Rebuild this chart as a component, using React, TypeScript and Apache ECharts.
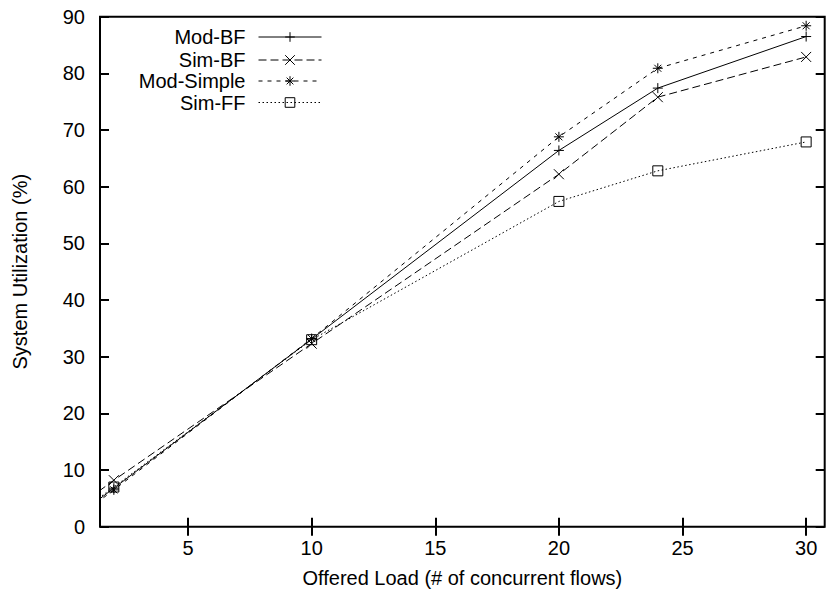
import React, { useEffect, useRef } from "react";
import * as echarts from "echarts";

const xVals = [1, 2, 10, 20, 24, 30];
const modBF = [3.5, 6.8, 33.1, 66.4, 77.4, 86.5];
const simBF = [5.0, 8.2, 32.3, 62.2, 75.8, 82.9];
const modSimple = [3.2, 6.5, 33.2, 68.8, 80.9, 88.4];
const simFF = [3.8, 7.0, 33.0, 57.4, 62.8, 67.9];
const seriesNames = ["Mod-BF", "Sim-BF", "Mod-Simple", "Sim-FF"];
const xTicks = [5, 10, 15, 20, 25, 30];

const FONT = "'Liberation Sans', Arial, Helvetica, sans-serif";

const SYM_PLUS = "path://M5,0L5,10M0,5L10,5";
const SYM_CROSS = "path://M0,0L10,10M10,0L0,10";
const SYM_STAR = "path://M5,0L5,10M0,5L10,5M1.5,1.5L8.5,8.5M8.5,1.5L1.5,8.5";
const SYM_BOX = "path://M0,0L10,0L10,10L0,10Z";

export default function App() {
  const ref = useRef<HTMLDivElement>(null);
  useEffect(() => {
    if (!ref.current) return;
    const chart = echarts.init(ref.current, null, { renderer: "svg" });
    const pair = (ys: number[]) => xVals.map((x, i) => [x, ys[i]]);
    const styles = [
      { data: modBF, symbol: SYM_PLUS, dash: "solid" as any },
      { data: simBF, symbol: SYM_CROSS, dash: [8, 4] },
      { data: modSimple, symbol: SYM_STAR, dash: [4, 5] },
      { data: simFF, symbol: SYM_BOX, dash: [1.5, 2.5] },
    ];
    const legendCenters = [37, 60, 81, 102.5];
    const tickStyle = { show: true, inside: true, length: 9, lineStyle: { color: "#000", width: 2 } };
    const xMin = 1.44;
    const xMax = 30.75;
    chart.setOption({
      animation: false,
      backgroundColor: "#fff",
      textStyle: { fontFamily: FONT, color: "#000" },
      grid: {
        left: 100,
        top: 16.7,
        right: 1.3,
        bottom: 72.3,
        show: true,
        borderColor: "#000",
        borderWidth: 2,
        backgroundColor: "transparent",
      },
      legend: seriesNames.map((n, i) => ({
        data: [n],
        orient: "horizontal",
        align: "right",
        right: 504,
        top: legendCenters[i] - 10,
        padding: 0,
        itemWidth: 63,
        itemHeight: 12,
        selectedMode: false,
        lineStyle: { width: 1, color: "#000", type: styles[i].dash },
        itemStyle: { borderWidth: 1, borderColor: "#000", color: i === 3 ? "rgba(0,0,0,0)" : "#000" },
        textStyle: { fontFamily: FONT, fontSize: 20, color: "#000", padding: [0, 8, 0, 0] },
      })),
      xAxis: [
        {
          type: "value",
          min: xMin,
          max: xMax,
          position: "bottom",
          name: "Offered Load (# of concurrent flows)",
          nameLocation: "middle",
          nameGap: 41,
          nameTextStyle: { fontFamily: FONT, fontSize: 20, color: "#000" },
          axisLine: { show: false },
          axisTick: { ...tickStyle, customValues: xTicks },
          axisLabel: { customValues: xTicks, fontFamily: FONT, fontSize: 20, color: "#000", margin: 11 },
          splitLine: { show: false },
        },
        {
          type: "value",
          min: xMin,
          max: xMax,
          position: "top",
          axisLine: { show: false },
          axisTick: { ...tickStyle, customValues: xTicks },
          axisLabel: { show: false, customValues: xTicks },
          splitLine: { show: false },
        },
      ],
      yAxis: [
        {
          type: "value",
          min: 0,
          max: 90,
          interval: 10,
          position: "left",
          name: "System Utilization (%)",
          nameLocation: "middle",
          nameGap: 70,
          nameTextStyle: { fontFamily: FONT, fontSize: 20, color: "#000" },
          axisLine: { show: false },
          axisTick: tickStyle,
          axisLabel: { fontFamily: FONT, fontSize: 20, color: "#000", margin: 15 },
          splitLine: { show: false },
        },
        {
          type: "value",
          min: 0,
          max: 90,
          interval: 10,
          position: "right",
          axisLine: { show: false },
          axisTick: tickStyle,
          axisLabel: { show: false },
          splitLine: { show: false },
        },
      ],
      series: styles.map((s, i) => ({
        name: seriesNames[i],
        type: "line",
        data: pair(s.data),
        clip: true,
        symbol: s.symbol,
        symbolSize: 10,
        showAllSymbol: true,
        lineStyle: { color: "#000", width: 1, type: s.dash },
        itemStyle: {
          color: i === 3 ? "rgba(0,0,0,0)" : "#000",
          borderColor: "#000",
          borderWidth: 1,
        },
        emphasis: { disabled: true },
      })),
    });
    return () => chart.dispose();
  }, []);
  return <div ref={ref} style={{ width: 826, height: 599, position: "absolute", left: 0, top: 0 }} />;
}
